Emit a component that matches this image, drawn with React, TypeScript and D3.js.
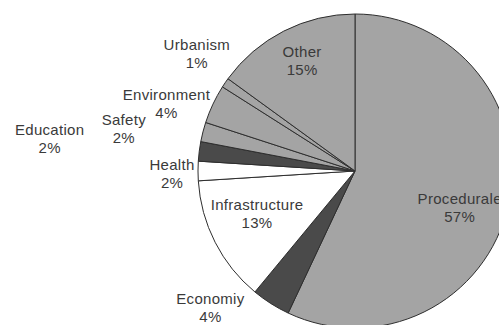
import * as d3 from "d3";

const categories = [
  "Procedurale",
  "Economiy",
  "Infrastructure",
  "Health",
  "Education",
  "Safety",
  "Environment",
  "Urbanism",
  "Other",
];
const shares = [57, 4, 13, 2, 2, 2, 4, 1, 15];
const percentLabels = ["57%", "4%", "13%", "2%", "2%", "2%", "4%", "1%", "15%"];

// fill tone per slice
const tones = ["gray", "dark", "white", "white", "dark", "gray", "gray", "gray", "gray"];
const toneColor: Record<string, string> = {
  gray: "#a4a4a4",
  dark: "#4a4a4a",
  white: "#ffffff",
};

// where each label block sits: [angle in degrees clockwise from top, distance from centre]
const labelPlace: Record<string, [number, number]> = {
  Procedurale: [109.4, 111],
  Economiy: [226.6, 199],
  Infrastructure: [246.3, 107],
  Health: [269.1, 183],
  Education: [276, 307],
  Safety: [280.3, 235],
  Environment: [289.5, 200],
  Urbanism: [306.6, 197],
  Other: [334.3, 122],
};

const App = () => {
  const width = 499;
  const height = 325;
  const cx = 355;
  const cy = 171;
  const radius = 157;

  const pie = d3
    .pie<number>()
    .sort(null)
    .value((d) => d);
  const arcs = pie(shares);
  const arc = d3.arc<d3.PieArcDatum<number>>().innerRadius(0).outerRadius(radius);

  return (
    <svg
      width={width}
      height={height}
      viewBox={`0 0 ${width} ${height}`}
      style={{ position: "absolute", left: 0, top: 0, background: "#fff" }}
    >
      <g transform={`translate(${cx},${cy})`}>
        {arcs.map((a, i) => (
          <path
            key={categories[i]}
            d={arc(a) || ""}
            fill={toneColor[tones[i]]}
            stroke="#2e2e2e"
            strokeWidth={1}
            strokeLinejoin="round"
          />
        ))}
        {categories.map((name, i) => {
          const [deg, dist] = labelPlace[name];
          const [x, y] = d3.pointRadial((deg * Math.PI) / 180, dist);
          return (
            <text
              key={name}
              x={x}
              y={y}
              textAnchor="middle"
              fontFamily="'Liberation Sans', Arial, sans-serif"
              fontSize={15}
              letterSpacing={0.3}
              fill="#3a3a3a"
            >
              <tspan x={x} dy={-4}>
                {name}
              </tspan>
              <tspan x={x} dy={18}>
                {percentLabels[i]}
              </tspan>
            </text>
          );
        })}
      </g>
    </svg>
  );
};

export default App;
